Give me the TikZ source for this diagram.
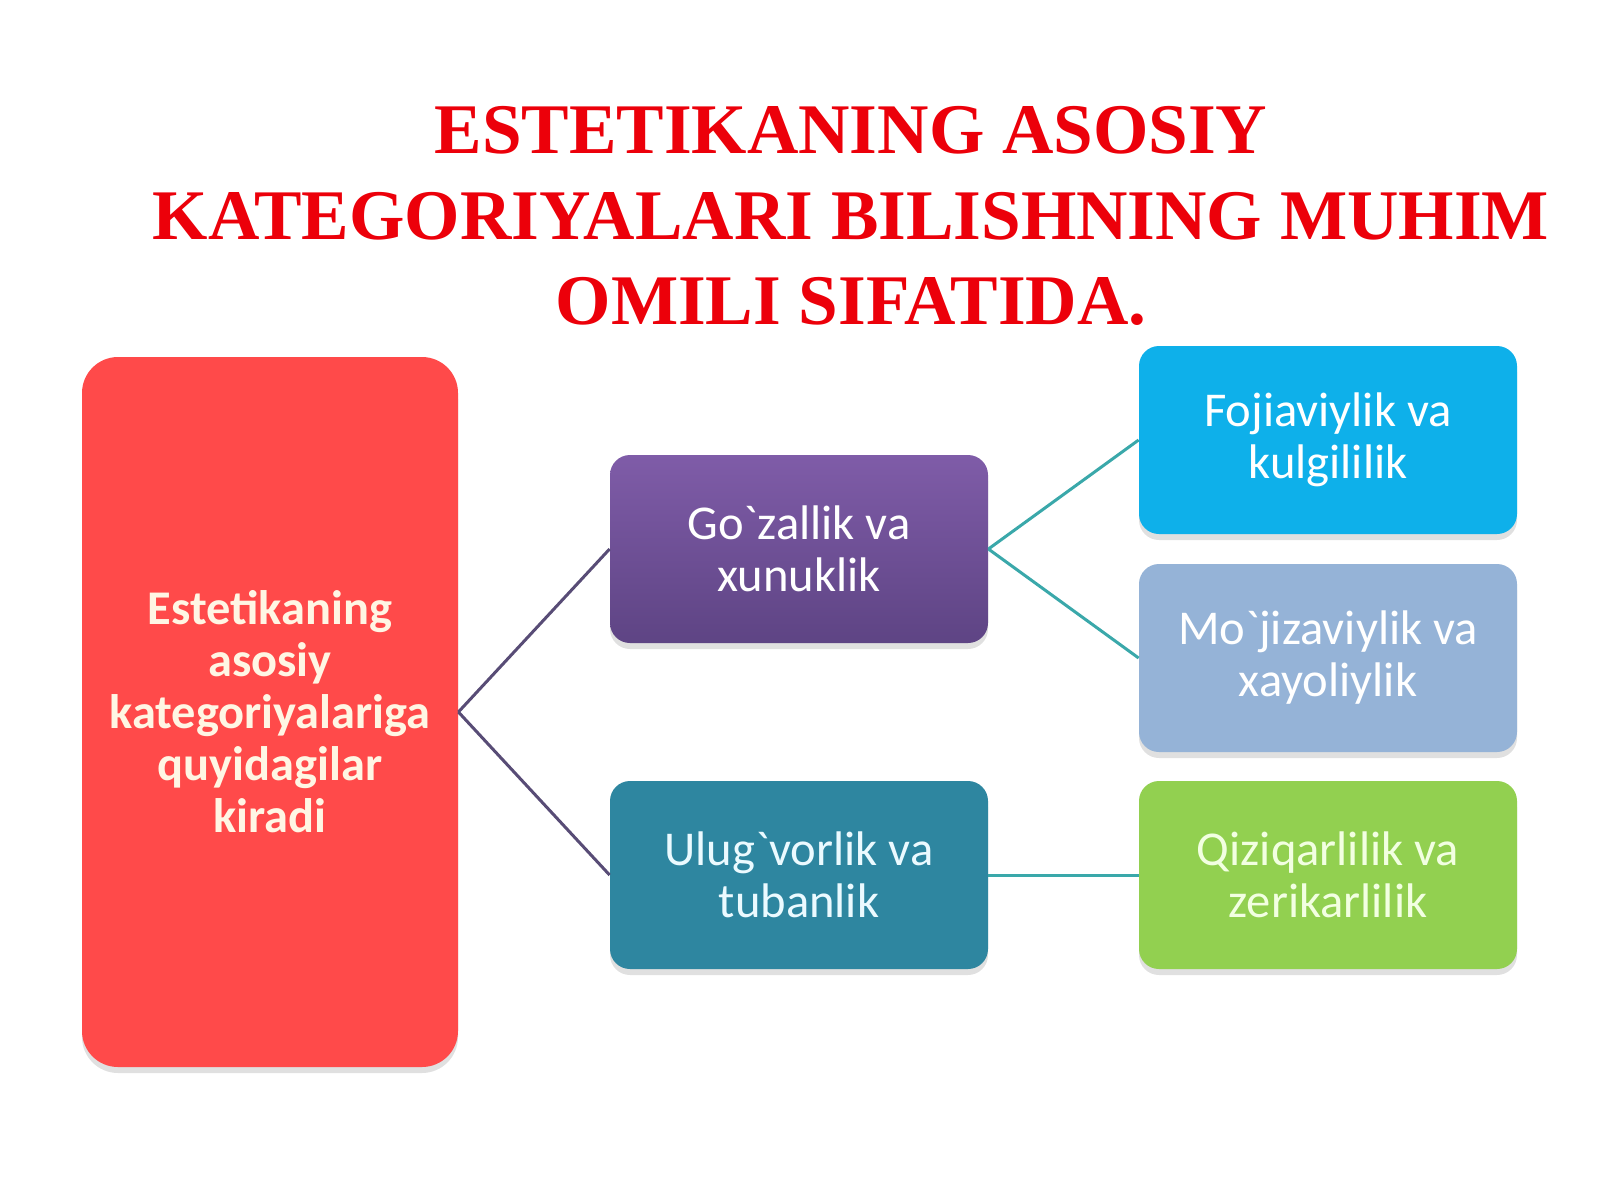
\documentclass[tikz,border=0pt]{standalone}
\usepackage{fontspec}
\setmainfont{Carlito}[Ligatures=TeXOff]
\newfontfamily\titlefont{Liberation Serif}
\usetikzlibrary{shadows}
\newcommand{\gr}{\symbol{"60}}
\definecolor{titlered}{RGB}{236,0,10}
\definecolor{boxred}{RGB}{255,74,74}
\definecolor{purpletop}{RGB}{127,92,168}
\definecolor{purplebot}{RGB}{94,68,132}
\definecolor{boxteal}{RGB}{46,134,160}
\definecolor{boxblue}{RGB}{14,176,234}
\definecolor{boxlight}{RGB}{149,179,215}
\definecolor{boxgreen}{RGB}{146,208,80}
\definecolor{linepurple}{RGB}{88,76,118}
\definecolor{lineteal}{RGB}{58,168,170}
\tikzset{
  catbox/.style={rectangle, rounded corners=10pt, minimum width=189pt, minimum height=94pt,
    align=center, text=white, font=\fontsize{24.3}{26}\selectfont, inner sep=0pt,
    drop shadow={opacity=0.12, shadow xshift=0pt, shadow yshift=-3pt, fill=black}},
  leftline/.style={draw=linepurple, line width=1.5pt},
  rightline/.style={draw=lineteal, line width=1.5pt}
}
\begin{document}
\begin{tikzpicture}[x=0.5pt,y=-0.5pt]
\useasboundingbox (0,0) rectangle (1600,1200);
\fill[white] (0,0) rectangle (1600,1200);
\node[font=\titlefont\bfseries\fontsize{35.6}{42.8}\selectfont, text=titlered, align=center] (title) at (851,216)
  {ESTETIKANING ASOSIY\\KATEGORIYALARI BILISHNING MUHIM\\OMILI SIFATIDA.};
\node[catbox, fill=boxred, rounded corners=18pt, minimum width=188pt, minimum height=355pt,
  font=\bfseries\fontsize{24.2}{26}\selectfont, text={rgb,255:red,255;green,246;blue,228}] (root) at (270,712)
  {Estetikaning\\asosiy\\kategoriyalariga\\quyidagilar\\kiradi};
\node[catbox, top color=purpletop, bottom color=purplebot] (goz) at (799,549) {Go\gr zallik va\\xunuklik};
\node[catbox, fill=boxteal, text={rgb,255:red,235;green,250;blue,255}] (ulug) at (799,875) {Ulug\gr vorlik va\\tubanlik};
\node[catbox, fill=boxblue] (foj) at (1328,440) {Fojiaviylik va\\kulgililik};
\node[catbox, fill=boxlight] (moj) at (1328,658) {Mo\gr jizaviylik va\\xayoliylik};
\node[catbox, fill=boxgreen, text={rgb,255:red,242;green,255;blue,225}] (qiz) at (1328,875) {Qiziqarlilik va\\zerikarlilik};
\draw[leftline] (root.east) -- (goz.west);
\draw[leftline] (root.east) -- (ulug.west);
\draw[rightline] (goz.east) -- (foj.west);
\draw[rightline] (goz.east) -- (moj.west);
\draw[rightline] (ulug.east) -- (qiz.west);
\end{tikzpicture}
\end{document}
